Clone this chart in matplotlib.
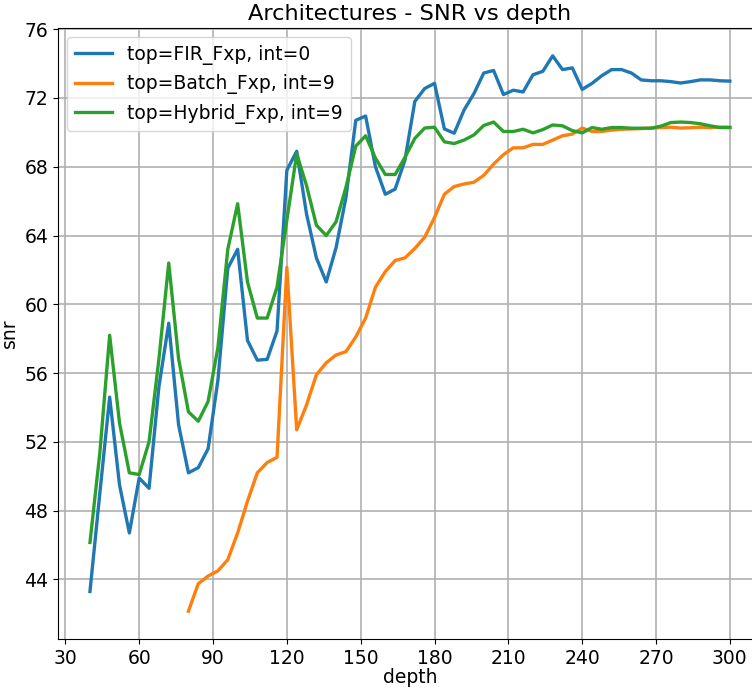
import matplotlib
matplotlib.use('Agg')
import matplotlib.pyplot as plt
import numpy as np

plt.rcParams['font.size'] = 13.5

# depth sweep (step 4)
depth_fir = np.arange(40, 301, 4)
depth_batch = np.arange(80, 301, 4)

snr_fir = [
    43.3, 49.0, 54.6, 49.5, 46.7, 49.9, 49.3, 55.2, 58.9, 53.0,
    50.2, 50.5, 51.6, 55.6, 62.1, 63.2, 57.9, 56.75, 56.8, 58.45,
    67.8, 68.9, 65.25, 62.7, 61.3, 63.3, 66.2, 70.7, 70.95, 68.0,
    66.4, 66.7, 68.4, 71.8, 72.55, 72.85, 70.2, 69.95, 71.3, 72.25,
    73.45, 73.6, 72.2, 72.45, 72.35, 73.35, 73.55, 74.45, 73.65, 73.75,
    72.5, 72.85, 73.3, 73.65, 73.65, 73.45, 73.05, 73.0, 73.0, 72.95,
    72.87, 72.95, 73.05, 73.05, 73.0, 72.98,
]
snr_batch = [
    42.15, 43.75, 44.2, 44.5, 45.15, 46.7, 48.55, 50.2, 50.8, 51.1,
    62.15, 52.7, 54.15, 55.9, 56.6, 57.05, 57.25, 58.1, 59.2, 61.0,
    61.9, 62.55, 62.7, 63.25, 63.9, 65.05, 66.4, 66.85, 67.0, 67.1,
    67.5, 68.15, 68.7, 69.1, 69.1, 69.3, 69.3, 69.55, 69.8, 69.9,
    70.25, 70.05, 70.05, 70.13, 70.18, 70.2, 70.22, 70.25, 70.28, 70.3,
    70.25, 70.27, 70.3, 70.28, 70.3, 70.3,
]
snr_hybrid = [
    46.15, 51.35, 58.2, 53.1, 50.2, 50.1, 52.0, 56.8, 62.4, 56.85,
    53.75, 53.2, 54.35, 57.5, 63.2, 65.85, 61.3, 59.2, 59.2, 61.0,
    64.9, 68.75, 66.9, 64.6, 64.0, 64.8, 66.8, 69.2, 69.8, 68.5,
    67.55, 67.55, 68.55, 69.65, 70.25, 70.3, 69.45, 69.35, 69.55, 69.85,
    70.4, 70.6, 70.05, 70.05, 70.18, 69.97, 70.16, 70.43, 70.38, 70.1,
    69.97, 70.28, 70.18, 70.28, 70.28, 70.24, 70.24, 70.24, 70.36, 70.57,
    70.6, 70.57, 70.5, 70.38, 70.28, 70.28,
]
labels = ['top=FIR_Fxp, int=0', 'top=Batch_Fxp, int=9', 'top=Hybrid_Fxp, int=9']

fig = plt.figure(figsize=(7.52, 6.88), dpi=100)
# right spine falls off the canvas in the reference, so the axes run past x=1
ax = fig.add_axes([0.0771, 0.0712, 0.936, 0.888])

ax.plot(depth_fir, snr_fir, color='#1f77b4', lw=2.4, label=labels[0])
ax.plot(depth_batch, snr_batch, color='#ff7f0e', lw=2.4, label=labels[1])
ax.plot(depth_fir, snr_hybrid, color='#2ca02c', lw=2.4, label=labels[2])

ax.set_xticks(np.arange(30, 301, 30))
ax.set_yticks(np.arange(44, 77, 4))
ax.grid(True, color='#b0b0b0', lw=1.2)
ax.set_axisbelow(True)

ax.set_title('Architectures - SNR vs depth')
ax.set_xlabel('depth', labelpad=0)
ax.set_ylabel('snr')
ax.legend(loc='upper left')

fig.savefig('out.png', dpi=100)
